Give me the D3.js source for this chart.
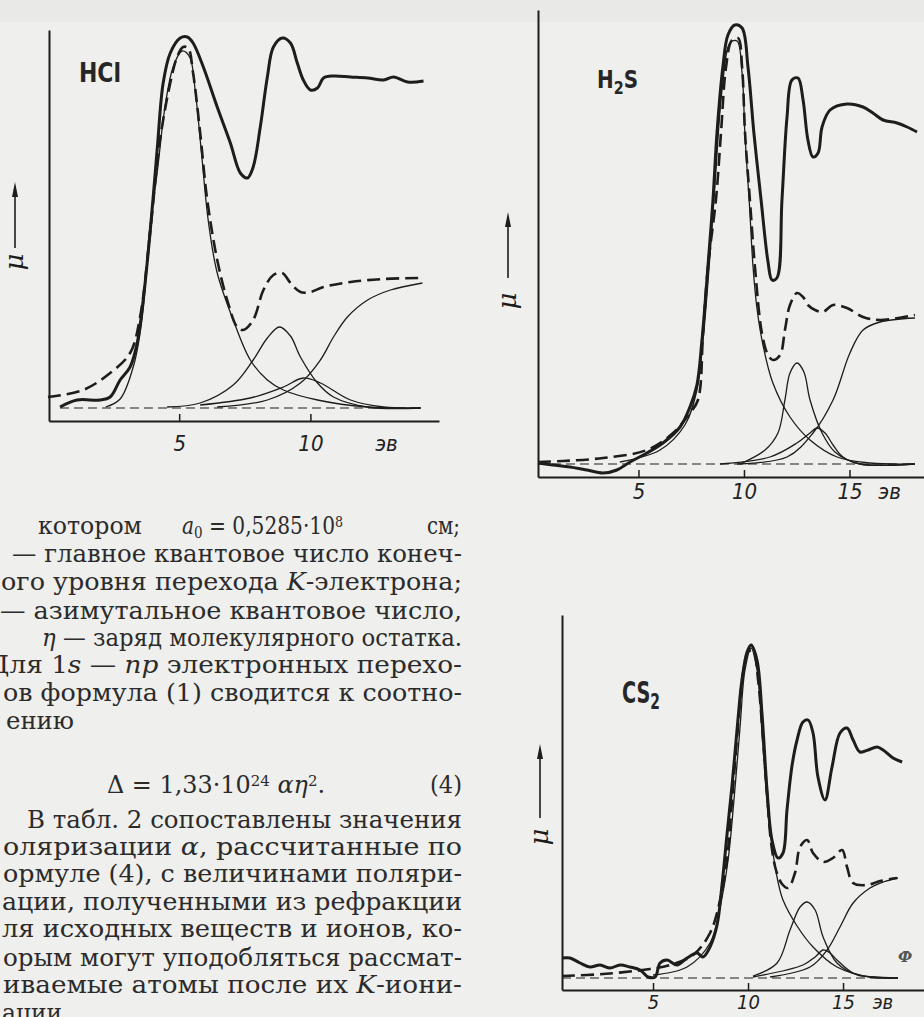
<!DOCTYPE html>
<html>
<head>
<meta charset="utf-8">
<script src="https://cdn.jsdelivr.net/npm/d3@7"></script>
<style>
  body { margin: 0; background: #efefed; }
  svg { display: block; }
  .body { font-family: 'DejaVu Serif', 'Liberation Serif', serif; font-size: 24px; fill: #2b2b2b; }
  .tick text { font-family: 'Liberation Sans Narrow', 'DejaVu Sans Condensed', 'DejaVu Sans', sans-serif; font-style: italic; fill: #222; }
</style>
</head>
<body>
<svg id="page" width="924" height="1017"></svg>
<script>
// ======= X-RAY ABSORPTION EDGES: HCl, H2S, CS2 ===========
// x = photon energy above the edge, eV; y = mu, arbitrary units

const unitLabel = 'эв'

// --- HCl ---
const hclTicks = [5, 10]
const hclMeasured = [[0.46,3.5],[1.11,5.25],[1.98,5.25],[2.37,6],[2.75,10.25],[3.13,13.5],[3.4,19.5],[3.63,30.25],[3.89,47],[4.16,67.75],[4.39,84.5],[4.66,92],[5.04,95.75],[5.31,96],[5.53,94.5],[5.92,88.5],[6.45,78.5],[6.95,69.5],[7.33,62],[7.6,60.75],[7.82,63.5],[8.09,73.5],[8.36,86],[8.59,93.5],[8.93,95.75],[9.24,94.5],[9.5,89.5],[9.73,85.25],[10.0,82.75],[10.27,83.25],[10.5,85.75],[10.88,86.25],[11.53,86],[12.18,85.75],[12.79,85.25],[13.17,86],[13.7,84.75],[14.31,85]]
const hclSum = [[0.0,6],[1.34,7.75],[2.37,12],[3.13,17],[3.51,26],[3.89,47],[4.27,70.25],[4.66,84.5],[4.92,91],[5.15,93.5],[5.34,93.25],[5.53,87],[5.8,72],[6.07,55.25],[6.45,40.25],[6.83,30.25],[7.21,23.5],[7.44,22.75],[7.82,25.25],[8.21,32.75],[8.59,36.5],[8.93,37],[9.24,34.5],[9.62,32.25],[10.0,32.25],[10.5,33.5],[11.53,34.75],[12.79,35.5],[14.27,35.75]]
const hclPeak1 = [[2.2,3.5],[2.75,5.5],[3.26,13.75],[3.51,22],[3.66,30],[3.86,47],[4.16,62],[4.47,79],[4.77,88.5],[5.11,92.5],[5.4,91],[5.62,82],[5.85,67],[6.11,50],[6.45,37],[7.06,25.25],[7.71,15.25],[8.36,10.25],[8.97,7.75],[10.27,5.25],[12.18,3.5],[14.2,3.25]]
const hclPeak2 = [[4.54,3.5],[5.8,4.5],[7.06,9],[7.82,15.25],[8.36,20.75],[8.82,23.5],[9.24,21.25],[9.62,16],[10.27,9.5],[10.88,6],[12.18,3.5],[14.2,3.25]]
const hclPeak3 = [[5.8,4],[7.71,5.75],[8.97,8.5],[9.73,10.75],[10.38,9.5],[11.53,5.25],[12.79,3.5],[14.2,3.25]]
const hclEdge = [[6.45,3.5],[8.36,5.25],[9.62,9.5],[10.38,15.25],[10.88,21],[11.41,26],[12.18,30.25],[13.05,32.75],[14.27,34.5]]
const hclBase = [[0.46,3.25],[14.2,3.25]]

// --- H2S ---
const h2sTicks = [5, 10, 15]
const h2sMeasured = [[0.24,3.5],[0.95,3],[1.75,2.5],[2.56,1.75],[3.32,1],[3.98,1.75],[4.6,3.75],[5.4,6],[6.16,8.5],[6.97,12.5],[7.44,17.5],[7.77,23],[8.01,34.25],[8.29,52.5],[8.53,69.25],[8.72,86],[9.0,102.5],[9.24,110.5],[9.57,113],[9.91,112.25],[10.19,102.5],[10.47,86],[10.81,69.25],[11.14,53.75],[11.33,49.25],[11.56,49.75],[11.8,69.25],[12.04,90],[12.27,99.25],[12.56,99.75],[12.8,94.25],[13.03,84.25],[13.27,80],[13.51,81],[13.7,87.5],[14.08,91.75],[14.88,93.25],[15.64,92.5],[16.11,91],[16.59,89.25],[17.25,88.5],[17.73,87.5],[18.2,86.25]]
const h2sSum = [[0.24,3.75],[1.42,4],[3.32,4.75],[5.4,6.75],[6.64,11],[7.44,16],[7.82,19.25],[8.06,36],[8.29,52.5],[8.67,69.25],[8.91,86],[9.15,102.5],[9.43,109.25],[9.72,109.75],[9.91,102.5],[10.05,86],[10.28,69.25],[10.52,52.5],[10.85,36],[11.14,30.5],[11.37,29.25],[11.71,30.5],[11.94,36.75],[12.18,43],[12.51,46],[12.8,45],[13.03,43],[13.37,41.75],[13.74,41.25],[14.22,43],[14.88,42.25],[15.64,40],[16.45,39.25],[18.1,40.5]]
const h2sPeak1 = [[4.12,3.75],[6.02,6.75],[7.2,13],[7.77,21.75],[8.06,34.25],[8.39,55.5],[8.67,76.75],[8.96,96.75],[9.34,108.5],[9.67,109],[9.91,101],[10.05,85],[10.26,68],[10.43,52.5],[10.62,42],[10.9,33],[11.37,23.5],[12.18,15],[13.13,9.25],[14.41,5],[15.97,3.5],[18.1,3.25]]
const h2sPeak2 = [[9.81,3.25],[11.0,6.75],[11.61,11],[11.94,19.25],[12.18,26],[12.51,28.5],[12.84,26.25],[13.13,19.25],[13.7,11],[14.31,6.25],[15.5,3.25],[18.1,3.25]]
const h2sPeak3 = [[8.86,3.25],[11.23,5],[12.51,8.5],[13.13,11],[13.46,12.25],[13.84,11],[14.22,8],[14.69,5],[15.5,3.25],[18.1,3.25]]
const h2sEdge = [[9.67,3.25],[12.04,5],[13.27,11],[14.22,19.25],[15.02,31],[15.64,36.75],[16.45,38.75],[18.1,39.75]]
const h2sBase = [[0.24,3.25],[18.1,3.25]]

// --- CS2 ---
const cs2Ticks = [5, 10, 15]
const cs2Measured = [[0.21,8],[0.63,8],[1.16,6.75],[1.68,5.75],[2.21,6.25],[2.74,5.5],[3.26,6.25],[3.79,5.75],[4.32,5],[4.74,3.25],[5.11,3.25],[5.37,6.75],[5.74,7.5],[6.26,6.25],[6.79,8],[7.32,9.25],[7.63,8.25],[8.0,10.75],[8.37,16.25],[8.63,26.25],[8.89,38.75],[9.16,51.25],[9.42,65],[9.68,77.5],[9.95,84.5],[10.16,86.25],[10.47,82.5],[10.74,68.75],[11.0,50],[11.26,37.5],[11.58,33],[11.84,34.25],[12.05,45],[12.32,56.25],[12.58,62.5],[12.89,67],[13.16,67.5],[13.42,64.25],[13.68,53.25],[14.05,47.5],[14.42,55.75],[14.84,64.25],[15.21,65.5],[15.53,62.5],[15.89,59.5],[16.32,60],[16.79,60.75],[17.11,60],[17.63,58],[18.11,57]]
const cs2Sum = [[0.21,3.5],[2.37,4],[4.84,5.25],[5.89,6.25],[7.11,8.75],[8.0,14.25],[8.53,22.5],[8.89,32.5],[9.16,47.5],[9.47,65.75],[9.74,79.25],[10.0,84.5],[10.26,85],[10.53,77.5],[10.79,62.5],[11.0,49.25],[11.21,37],[11.47,30],[11.79,26.5],[12.11,25.5],[12.47,29.25],[12.74,35.75],[13.11,37.5],[13.42,34.25],[13.95,32],[14.47,33],[14.95,35],[15.21,30.75],[15.53,26.75],[16.26,26.25],[16.95,27.25],[17.84,28]]
const cs2Peak1 = [[5.0,3.75],[6.79,5.75],[8.0,11.75],[8.53,20.75],[8.95,32.5],[9.26,47.5],[9.58,65.75],[9.84,80],[10.16,85.5],[10.47,80],[10.74,64],[11.0,47],[11.26,36],[11.58,27],[11.84,22.5],[12.58,16],[13.42,10.75],[14.68,5.75],[16.42,3.25],[17.89,3]]
const cs2Peak2 = [[10.26,3.5],[11.53,6.75],[12.21,15],[12.74,20.75],[13.11,22],[13.53,20],[13.95,13.25],[14.68,6.75],[15.74,3.75],[16.58,3.25],[17.89,3]]
const cs2Peak3 = [[10.26,3.25],[12.89,6.25],[13.53,8.25],[13.95,10],[14.32,9.25],[14.68,7.5],[15.53,4.25],[16.58,3.25],[17.89,3]]
const cs2Edge = [[11.16,3.25],[13.26,5.75],[14.16,10],[14.84,15.75],[15.53,21.75],[16.42,25.5],[17.11,27],[17.89,28]]
const cs2Base = [[0.21,3],[17.89,3]]

const svg = d3.select('#page')
svg.append('rect').attr('width', 924).attr('height', 1017).attr('fill', '#efefed')
svg.append('rect').attr('width', 924).attr('height', 22).attr('fill', '#e9e9e7')

const ink = '#1d1d1d'

function drawPanel(p) {
  const x = d3.scaleLinear().domain(p.xDomain).range(p.xRange)
  const y = d3.scaleLinear().domain(p.yDomain).range(p.yRange)
  const g = svg.append('g')

  const smooth = d3.line()
    .x(d => x(d[0]))
    .y(d => y(d[1]))
    .curve(d3.curveCatmullRom.alpha(0.5))

  // zero line of the components
  g.append('path')
    .datum(p.base)
    .attr('d', d3.line().x(d => x(d[0])).y(d => y(d[1])))
    .attr('fill', 'none').attr('stroke', ink)
    .attr('stroke-width', 1.2).attr('stroke-dasharray', '9,5')

  // thin component curves
  p.parts.forEach(part => {
    g.append('path')
      .datum(part)
      .attr('d', smooth)
      .attr('fill', 'none').attr('stroke', ink)
      .attr('stroke-width', 1.3)
  })

  // sum of components, dashed
  g.append('path')
    .datum(p.sum)
    .attr('d', smooth)
    .attr('fill', 'none').attr('stroke', ink)
    .attr('stroke-width', 2.6).attr('stroke-dasharray', '13,6')

  // measured curve
  g.append('path')
    .datum(p.measured)
    .attr('d', smooth)
    .attr('fill', 'none').attr('stroke', ink)
    .attr('stroke-width', 3).attr('stroke-linejoin', 'round')

  // axes
  const xAxis = d3.axisBottom(x)
    .tickValues(p.ticks)
    .tickSizeInner(-7)
    .tickSizeOuter(0)
    .tickPadding(p.pad)
  const gx = g.append('g')
    .attr('transform', `translate(0, ${p.yRange[0]})`)
    .call(xAxis)
  gx.select('.domain').attr('stroke', ink).attr('stroke-width', 2)
  gx.selectAll('.tick line').attr('stroke', ink).attr('stroke-width', 1.5)
  gx.selectAll('.tick text').attr('font-size', p.tickFont)

  gx.append('text')
    .attr('x', x(p.unitAt)).attr('y', p.pad).attr('dy', '0.71em')
    .attr('text-anchor', 'middle')
    .attr('font-size', p.tickFont)
    .attr('font-family', "'Liberation Sans Narrow','DejaVu Sans Condensed',sans-serif")
    .attr('font-style', 'italic').attr('fill', '#222')
    .text(unitLabel)

  const yAxis = d3.axisLeft(y).tickValues([]).tickSizeOuter(0)
  const gy = g.append('g')
    .attr('transform', `translate(${p.xRange[0]}, 0)`)
    .call(yAxis)
  gy.select('.domain').attr('stroke', ink).attr('stroke-width', 2)

  // mu with arrow
  const a = p.arrow
  g.append('line')
    .attr('x1', a.x).attr('x2', a.x).attr('y1', a.y1).attr('y2', a.y2 + 10)
    .attr('stroke', ink).attr('stroke-width', 1.6)
  g.append('path')
    .attr('d', `M${a.x},${a.y2} L${a.x + 3},${a.y2 + 15} L${a.x - 3},${a.y2 + 15} Z`)
    .attr('fill', ink)
  g.append('text')
    .attr('transform', `translate(${a.x + 8}, ${a.muY}) rotate(-90)`)
    .attr('text-anchor', 'middle')
    .attr('font-family', "'DejaVu Serif', serif")
    .attr('font-style', 'italic')
    .attr('font-size', 26).attr('fill', ink)
    .text('μ')

  // compound name
  const t = g.append('text')
    .attr('x', p.name.x).attr('y', p.name.y)
    .attr('font-family', "'DejaVu Sans Condensed','Liberation Sans Narrow',sans-serif")
    .attr('font-weight', 'bold')
    .attr('font-size', p.name.size).attr('fill', '#262626')
  p.name.parts.forEach(s => {
    const sp = t.append('tspan').text(s.t)
    if (s.sub) sp.attr('font-size', p.name.size * 0.72).attr('dy', 6)
    else sp.attr('dy', s.back ? -6 : 0)
  })
  if (p.name.w) t.attr('textLength', p.name.w).attr('lengthAdjust', 'spacingAndGlyphs')
}

drawPanel({
  xDomain: [0.04, 14.9], xRange: [49, 439],
  yDomain: [0, 97.75], yRange: [421, 30],
  ticks: hclTicks, pad: 14, tickFont: 22, unitAt: 12.9,
  measured: hclMeasured, sum: hclSum,
  parts: [hclPeak1, hclPeak2, hclPeak3, hclEdge], base: hclBase,
  arrow: { x: 15, y1: 248, y2: 182, muY: 262 },
  name: { x: 79, y: 82, size: 26, w: 42, parts: [{ t: 'HCl' }] }
})

drawPanel({
  xDomain: [0.24, 18.53], xRange: [538, 924],
  yDomain: [0, 116.75], yRange: [477, 10],
  ticks: h2sTicks, pad: 6, tickFont: 22, unitAt: 16.9,
  measured: h2sMeasured, sum: h2sSum,
  parts: [h2sPeak1, h2sPeak2, h2sPeak3, h2sEdge], base: h2sBase,
  arrow: { x: 508, y1: 278, y2: 212, muY: 301 },
  name: { x: 597, y: 88, size: 24, w: 41, parts: [{ t: 'H' }, { t: '2', sub: true }, { t: 'S', back: true }] }
})

drawPanel({
  xDomain: [0.21, 19.26], xRange: [562, 924],
  yDomain: [0, 93.75], yRange: [990, 615],
  ticks: cs2Ticks, pad: 5, tickFont: 20, unitAt: 17.1,
  measured: cs2Measured, sum: cs2Sum,
  parts: [cs2Peak1, cs2Peak2, cs2Peak3, cs2Edge], base: cs2Base,
  arrow: { x: 540, y1: 818, y2: 744, muY: 837 },
  name: { x: 622, y: 703, size: 30, w: 38, parts: [{ t: 'CS' }, { t: '2', sub: true }] }
})

// small printer's mark next to the CS2 plot
svg.append('text')
  .attr('x', 898).attr('y', 962)
  .attr('font-family', "'DejaVu Serif', serif").attr('font-style', 'italic')
  .attr('font-weight', 'bold').attr('font-size', 15).attr('fill', '#555')
  .text('Ф')

// ======= PAGE TEXT ===========
const textLines = [
  { x: 38, y: 534, w: 104, segs: ['котором'] },
  { x: 182, y: 534, w: 161, segs: [{ t: 'a', i: 1 }, { t: '0', sub: 1 }, ' = 0,5285·10', { t: '8', sup: 1 }] },
  { x: 427, y: 534, w: 33, segs: ['см;'] },
  { x: 12, y: 562, w: 450, segs: ['— главное квантовое число конеч-'] },
  { x: 1, y: 590, w: 461, segs: ['ого уровня перехода ', { t: 'K', i: 1 }, '-электрона;'] },
  { x: 0, y: 619, w: 462, segs: ['— азимутальное квантовое число,'] },
  { x: 42, y: 646, w: 420, segs: [{ t: 'η', i: 1 }, ' — заряд молекулярного остатка.'] },
  { x: -12, y: 673, w: 474, segs: ['Для 1', { t: 's', i: 1 }, ' — ', { t: 'np', i: 1 }, ' электронных перехо-'] },
  { x: 3, y: 701, w: 459, segs: ['ов формула (1) сводится к соотно-'] },
  { x: 6, y: 729, w: 68, segs: ['ению'] },
  { x: 107, y: 793, w: 218, segs: ['Δ = 1,33·10', { t: '24', sup: 1 }, ' ', { t: 'αη', i: 1 }, { t: '2', sup: 1 }, '.'] },
  { x: 430, y: 793, w: 32, segs: ['(4)'] },
  { x: 27, y: 828, w: 435, segs: ['В табл. 2 сопоставлены значения'] },
  { x: 3, y: 855, w: 459, segs: ['оляризации ', { t: 'α', i: 1 }, ', рассчитанные по'] },
  { x: 3, y: 882, w: 459, segs: ['ормуле (4), с величинами поляри-'] },
  { x: 2, y: 910, w: 460, segs: ['ации, полученными из рефракции'] },
  { x: 2, y: 937, w: 460, segs: ['ля исходных веществ и ионов, ко-'] },
  { x: 3, y: 966, w: 459, segs: ['орым могут уподобляться рассмат-'] },
  { x: 3, y: 993, w: 459, segs: ['иваемые атомы после их ', { t: 'K', i: 1 }, '-иони-'] },
  { x: 2, y: 1021, w: 60, segs: ['ации'] }
]

const textG = svg.append('g')
textLines.forEach(line => {
  const t = textG.append('text').attr('class', 'body').attr('x', line.x).attr('y', line.y)
  line.segs.forEach(s => {
    if (typeof s === 'string') { t.append('tspan').text(s); return }
    const sp = t.append('tspan').text(s.t)
    if (s.i) sp.attr('font-style', 'italic')
    if (s.sub) sp.attr('baseline-shift', '-25%').attr('font-size', '16px')
    if (s.sup) sp.attr('baseline-shift', '45%').attr('font-size', '15px')
  })
  if (line.w) t.attr('textLength', line.w).attr('lengthAdjust', 'spacingAndGlyphs')
})
</script>
</body>
</html>
